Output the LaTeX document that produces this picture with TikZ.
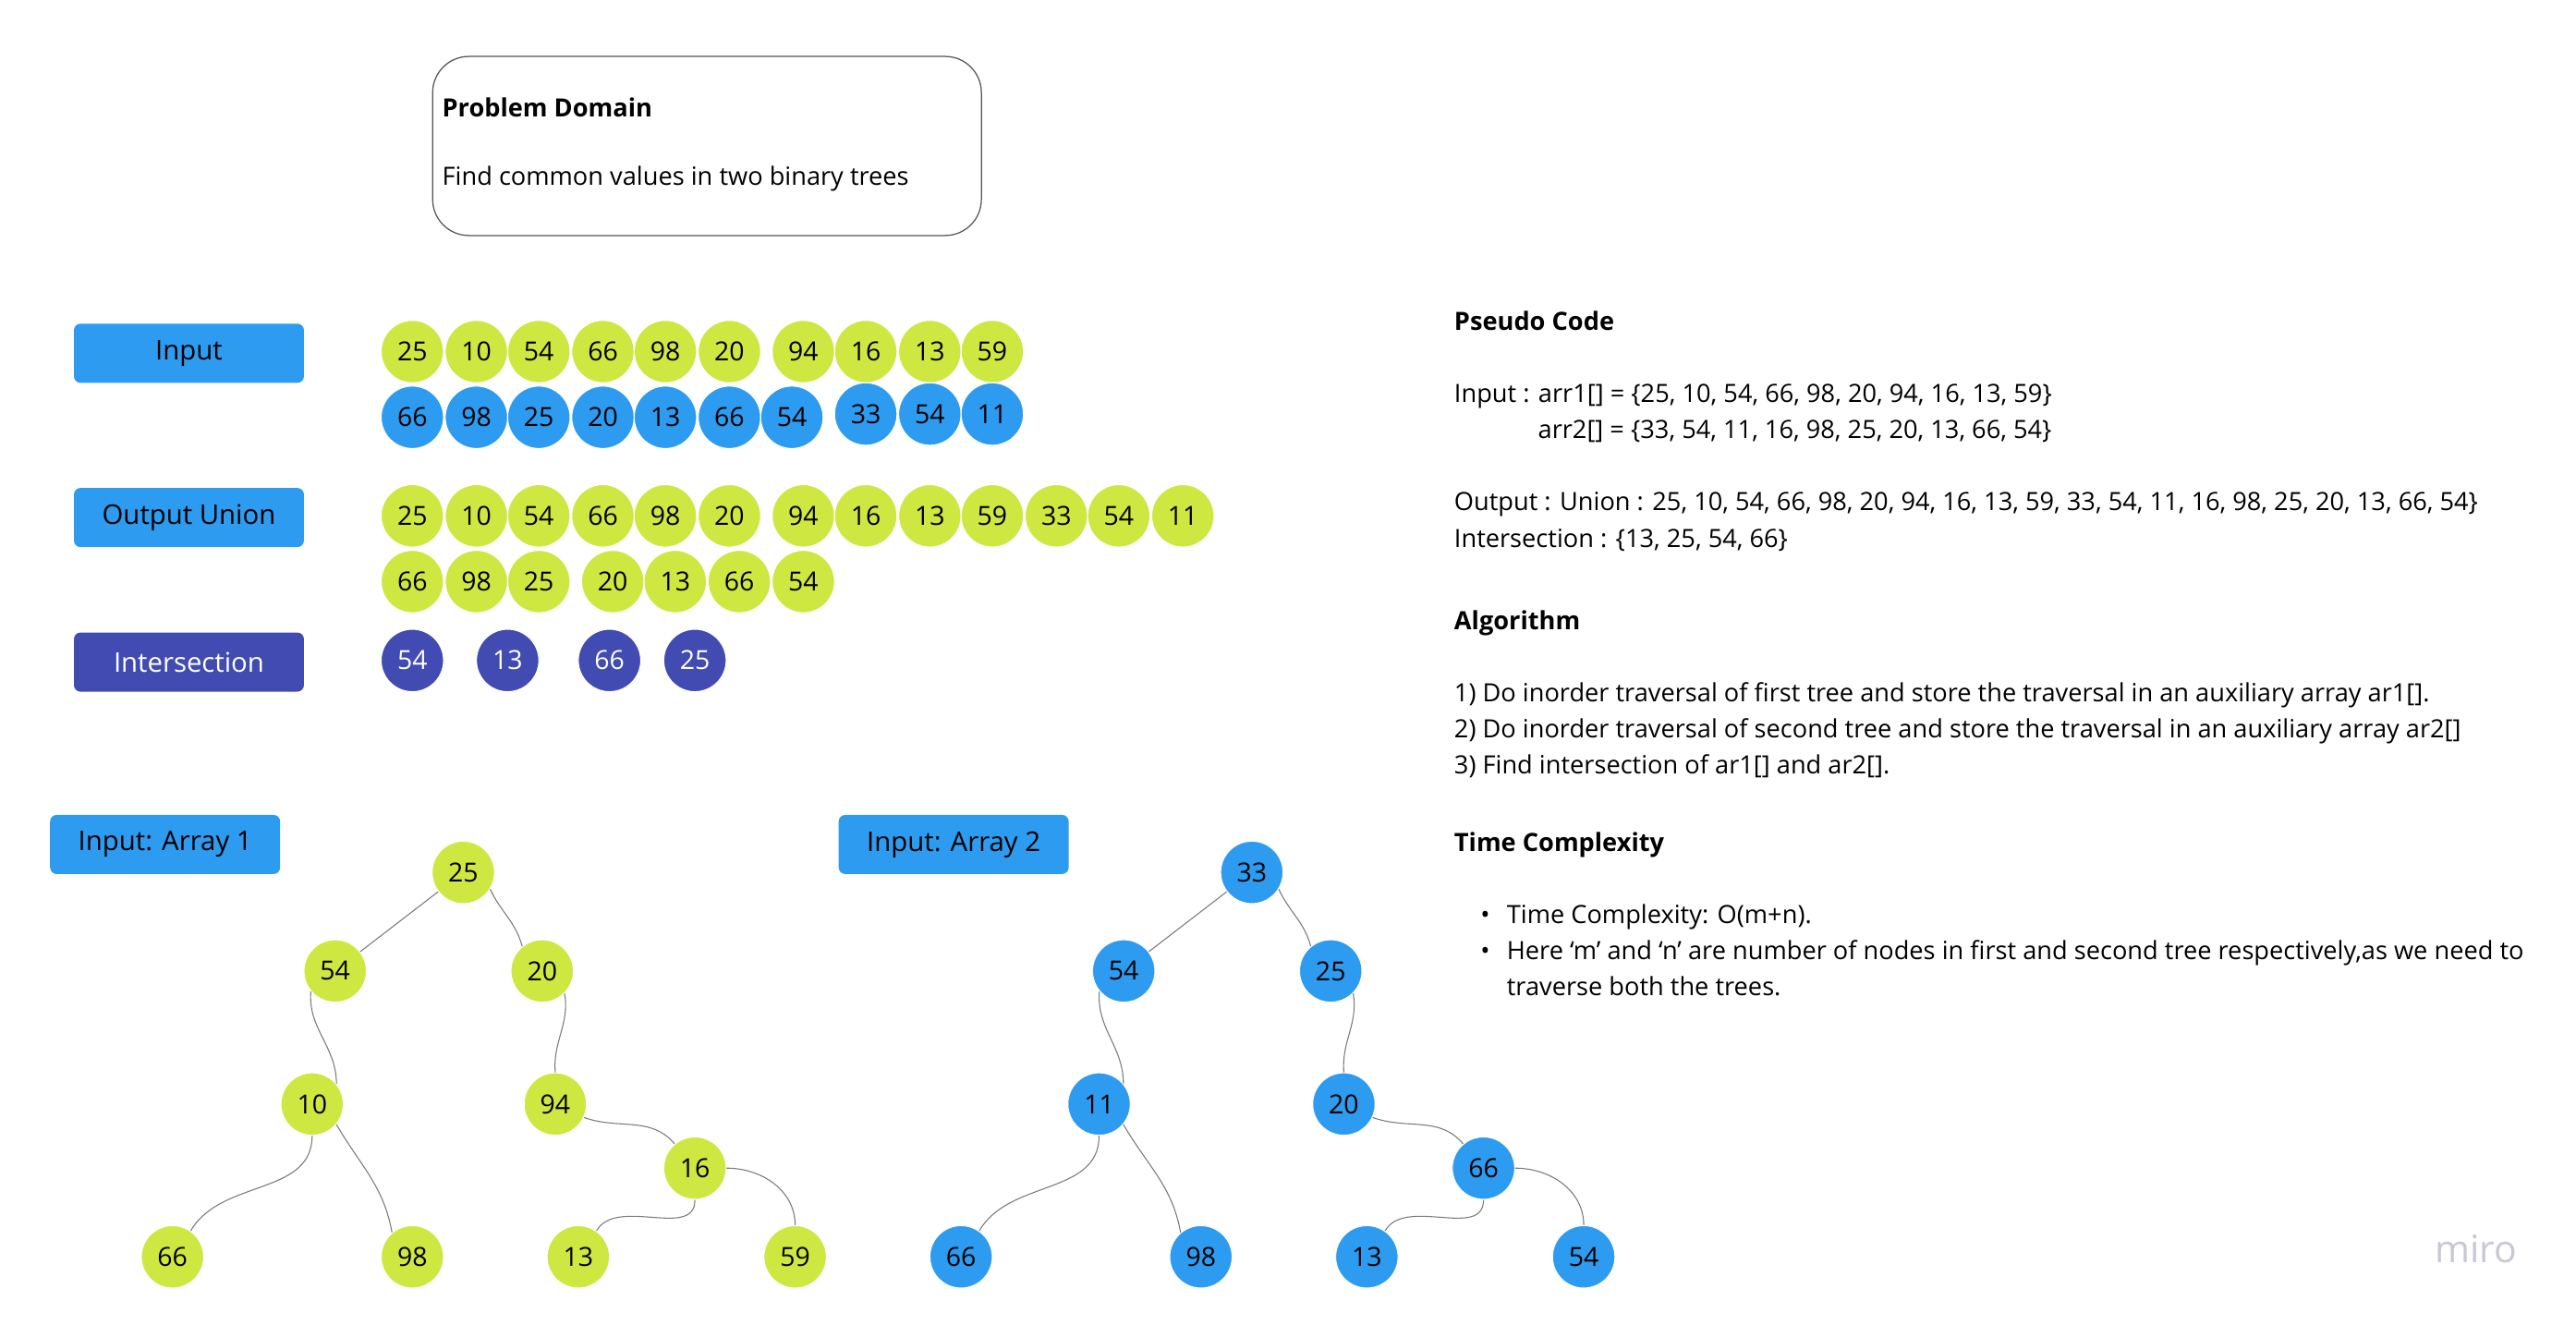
\documentclass[tikz,border=0pt]{standalone}
\usepackage{fontspec}
\setmainfont{Open Sans}
\usepackage{xcolor}
\usepackage{tikz}

\definecolor{miroLime}{HTML}{CEE741}
\definecolor{miroBlue}{HTML}{2D9BF0}
\definecolor{miroIndigo}{HTML}{414BB2}
\definecolor{edgeGray}{HTML}{7A7A7A}
\definecolor{frameGray}{HTML}{555555}
\definecolor{markGray}{HTML}{C8C8D2}

\tikzset{
  num/.style={circle, minimum size=38pt, inner sep=0pt, draw=white, line width=0.6pt, font=\fontsize{16}{16}\selectfont},
  lime/.style={num, fill=miroLime},
  bluenum/.style={num, fill=miroBlue},
  indnum/.style={num, fill=miroIndigo, text=white},
  tag/.style={rounded corners=4pt, minimum width=140pt, minimum height=36pt, inner sep=0pt, fill=miroBlue, font=\fontsize{16.5}{18}\selectfont},
  link/.style={edgeGray, line width=0.6pt},
  txt/.style={anchor=base west, inner sep=0pt, font=\fontsize{15.3}{18}\selectfont},
  hd/.style={anchor=base west, inner sep=0pt, font=\fontsize{15.3}{18}\selectfont\bfseries},
}

\begin{document}
\begin{tikzpicture}[x=1pt, y=-1pt]
\useasboundingbox (0,0) rectangle (1568,806);

% problem domain
\node[draw=frameGray, line width=0.7pt, rounded corners=22pt, minimum width=334pt, minimum height=109pt, anchor=north west] (domain) at (263,34) {};
\node[hd] (domainTitle) at (269,71) {Problem Domain};
\node[txt] (domainText) at (269,113) {Find common values in two binary trees};

% labels
\node[tag] (inputTag) at (115,215) {Input};
\node[tag] (unionTag) at (115,315) {Output Union};
\node[tag, fill=miroIndigo, text=white] (interTag) at (115,403) {Intersection};
\node[tag] (arrOneTag) at (100.5,514) {Input: Array 1};
\node[tag] (arrTwoTag) at (580.5,514) {Input: Array 2};

% arrays
\foreach \v/\x [count=\i] in {25/251,10/290,54/328,66/367,98/405,20/444,94/489,16/527,13/566,59/604}
  \node[lime] (inA\i) at (\x,214) {\v};
\foreach \v/\x/\y [count=\i] in {66/251/254,98/290/254,25/328/254,20/367/254,13/405/254,66/444/254,54/482/254,33/527/252,54/566/252,11/604/252}
  \node[bluenum] (inB\i) at (\x,\y) {\v};
\foreach \v/\x [count=\i] in {25/251,10/290,54/328,66/367,98/405,20/444,94/489,16/527,13/566,59/604,33/643,54/681,11/720}
  \node[lime] (unA\i) at (\x,314) {\v};
\foreach \v/\x [count=\i] in {66/251,98/290,25/328,20/373,13/411,66/450,54/489}
  \node[lime] (unB\i) at (\x,354) {\v};
\foreach \v/\x [count=\i] in {54/251,13/309,66/371,25/423}
  \node[indnum] (inter\i) at (\x,402) {\v};

% tree 1
\node[lime] (a0) at (282,531) {25};
\node[lime] (a1) at (204,591) {54};
\node[lime] (a2) at (330,591) {20};
\node[lime] (a3) at (190,672) {10};
\node[lime] (a4) at (338,672) {94};
\node[lime] (a5) at (423,711) {16};
\node[lime] (a6) at (105,765) {66};
\node[lime] (a7) at (251,765) {98};
\node[lime] (a8) at (352,765) {13};
\node[lime] (a9) at (484,765) {59};

% tree 2
\node[bluenum] (b0) at (762,531) {33};
\node[bluenum] (b1) at (684,591) {54};
\node[bluenum] (b2) at (810,591) {25};
\node[bluenum] (b3) at (669,672) {11};
\node[bluenum] (b4) at (818,672) {20};
\node[bluenum] (b5) at (903,711) {66};
\node[bluenum] (b6) at (585,765) {66};
\node[bluenum] (b7) at (731,765) {98};
\node[bluenum] (b8) at (832,765) {13};
\node[bluenum] (b9) at (964,765) {54};

\foreach \t in {a,b} {
  \draw[link] (\t0) -- (\t1);
  \draw[link] (\t0.-32) to[out=-65,in=105] (\t2.129);
  \draw[link] (\t1.-140) to[out=-95,in=90] (\t3.40);
  \draw[link] (\t2.-45) to[out=-80,in=95] (\t4.90);
  \draw[link] (\t3.-90) to[out=-90,in=60] (\t6.55);
  \draw[link] (\t3.-40) to[out=-60,in=100] (\t7.130);
  \draw[link] (\t4.-25) to[out=-20,in=130] (\t5.130);
  \draw[link] (\t5.-90) to[out=-90,in=60] (\t8.55);
  \draw[link] (\t5.0) to[out=0,in=90] (\t9.90);
}

% pseudo code
\node[hd] (codeHead) at (885,201) {Pseudo Code};
\node[txt] (codeIn) at (885,245) {Input : arr1[] = \{25, 10, 54, 66, 98, 20, 94, 16, 13, 59\}};
\node[txt] (codeInTwo) at (936,267) {arr2[] = \{33, 54, 11, 16, 98, 25, 20, 13, 66, 54\}};
\node[txt] (codeOut) at (885,311) {Output : Union : 25, 10, 54, 66, 98, 20, 94, 16, 13, 59, 33, 54, 11, 16, 98, 25, 20, 13, 66, 54\}};
\node[txt] (codeInter) at (885,333) {Intersection : \{13, 25, 54, 66\}};

\node[hd] (algoHead) at (885,383) {Algorithm};
\node[txt] (algoOne) at (885,427) {1) Do inorder traversal of first tree and store the traversal in an auxiliary array ar1[].};
\node[txt] (algoTwo) at (885,449) {2) Do inorder traversal of second tree and store the traversal in an auxiliary array ar2[]};
\node[txt] (algoThree) at (885,471) {3) Find intersection of ar1[] and ar2[].};

\node[hd] (timeHead) at (885,518) {Time Complexity};
\node[txt] (dotOne) at (901,562) {•};
\node[txt] (timeOne) at (917,562) {Time Complexity: O(m+n).};
\node[txt] (dotTwo) at (901,584) {•};
\node[txt] (timeTwo) at (917,584) {Here ‘m’ and ‘n’ are number of nodes in first and second tree respectively,as we need to};
\node[txt] (timeThree) at (917,606) {traverse both the trees.};

\node[font=\fontsize{23}{23}\selectfont, text=markGray] (watermark) at (1507,760) {miro};
\end{tikzpicture}
\end{document}
